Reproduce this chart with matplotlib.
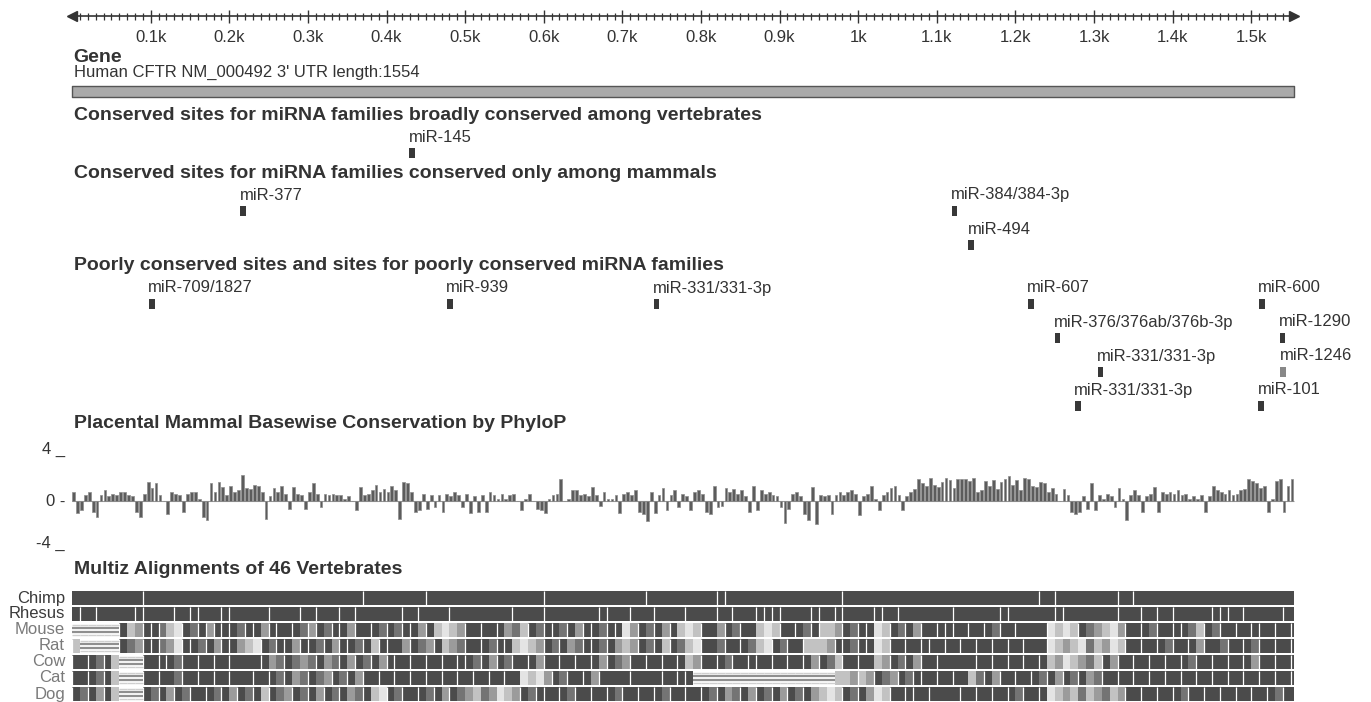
import matplotlib
matplotlib.use("Agg")
import matplotlib.pyplot as plt

plt.rcParams['font.family'] = ['Liberation Sans', 'DejaVu Sans']

# ---- data -------------------------------------------------------------
UTR_LEN = 1554
gene_label = "Human CFTR NM_000492 3' UTR length:1554"
tick_pos = [100, 200, 300, 400, 500, 600, 700, 800, 900, 1000, 1100, 1200, 1300, 1400, 1500]
tick_labels = ["0.1k", "0.2k", "0.3k", "0.4k", "0.5k", "0.6k", "0.7k", "0.8k",
               "0.9k", "1k", "1.1k", "1.2k", "1.3k", "1.4k", "1.5k"]

broad_names = ["miR-145"]
broad_pos = [429]
broad_rows = [0]

mammal_names = ["miR-377", "miR-384/384-3p", "miR-494"]
mammal_pos = [214, 1119, 1140]
mammal_rows = [0, 0, 1]

poor_names = ["miR-709/1827", "miR-939", "miR-331/331-3p", "miR-607", "miR-600",
              "miR-376/376ab/376b-3p", "miR-1290",
              "miR-331/331-3p", "miR-1246",
              "miR-331/331-3p", "miR-101"]
poor_pos = [98, 477, 740, 1216, 1510, 1250, 1536, 1305, 1537, 1276, 1509]
poor_rows = [0, 0, 0, 0, 0, 1, 1, 2, 2, 3, 3]
poor_light = ["miR-1246"]
SITE_LEN = 7

# PhyloP scores, one value per 5 bp
phylop_bin = 5
phylop = [
    0.8, -1.0, -0.8, 0.5, 0.8, -0.9, -1.4, 0.5, 0.9, 0.4,
    0.6, 0.5, 0.8, 0.8, 0.5, 0.4, -0.9, -1.4, 0.6, 1.6,
    1.1, 1.5, 0.5, 0.0, -1.1, 0.8, 0.6, 0.5, -0.9, 0.6,
    0.8, 0.8, 0.2, -1.4, -1.6, 1.5, 0.8, 1.6, 1.2, 0.5,
    1.3, 0.8, 0.9, 2.2, 1.1, 1.0, 1.4, 1.3, 0.8, -1.5,
    0.4, 1.1, 0.8, 1.3, 0.6, -0.7, 1.2, 0.6, 0.5, -0.7,
    0.8, 1.5, 0.6, -0.5, 0.6, 0.5, 0.6, 0.5, 0.5, 0.2,
    0.4, 0.0, -0.8, 1.2, 0.5, 0.6, 0.9, 1.4, 0.8, 1.0,
    0.8, 1.3, 0.9, -1.5, 1.6, 1.5, 0.8, -0.9, -0.8, 0.6,
    -0.7, 0.5, -0.5, 0.5, -0.9, 0.6, 0.4, 0.8, 0.5, -0.5,
    0.6, -1.0, 0.4, -0.9, 0.5, -0.9, 0.8, 0.5, 0.2, 0.6,
    0.2, 0.5, 0.6, 0.0, -0.8, 0.2, 0.6, 0.0, -0.7, -0.8,
    -1.0, 0.2, 0.5, 0.6, 1.9, 0.0, 0.2, 0.9, 0.9, 0.5,
    0.6, 0.4, 1.2, 0.5, -0.4, 0.8, 0.2, 0.2, 0.5, -1.0,
    0.6, 0.8, 0.5, 0.9, -0.9, -1.1, -1.7, 0.8, -1.0, 0.5,
    1.1, -0.8, 0.5, 0.9, -0.5, 0.6, 0.4,
    -0.8, 0.8, 0.9, 0.6, -0.9, -1.1, 1.3, -0.5, -0.4, 1.1,
    0.8, 1.0, 0.6, 0.9, 0.4, -0.9, 1.3, -0.8, 0.9, 0.6,
    0.8, 0.5, 0.4, -0.5, -1.9, -0.7, 0.6, 0.8, 0.4, -1.1,
    -1.6, 1.2, -2.0, 0.5, 0.4, 0.5, -1.1, 0.5, 0.8, 0.5,
    0.8, 0.9, 0.6, -1.2, 0.4, 0.6, 1.3, 0.2, -0.8, 0.5,
    0.8, 1.1, 1.3, 0.5, -0.8, 0.4,
    0.8, 1.0, 1.9, 1.5, 1.3, 2.0, 1.4, 1.2, 1.6, 2.0,
    1.8, 1.1, 1.9, 1.9, 1.9, 1.7, 2.0, 0.8, 0.9, 1.7,
    1.3, 1.8, 1.0, 1.6, 1.9, 2.1, 1.4, 1.8, 0.9, 2.0,
    1.9, 1.3, 1.2, 1.6, 1.5, 0.8,
    1.1, 0.6, 0.0, 1.0, 0.5, -0.9, -1.1, -0.9, 0.4, -0.7,
    1.5, -0.8, 0.5, 0.2, 0.6, 0.4, -0.5, 1.1, 0.2, -1.6,
    0.5, 0.9, 0.5, -0.9, 0.4, 0.6, 1.2, -0.9, 0.8, 0.6,
    0.8, 0.6, 0.9, 0.5, 0.6, 0.2, 0.4, 0.2, 0.5, -0.9,
    0.4, 1.3, 0.9, 0.8, 0.6, 0.9, 0.5, 0.6, 0.9, 1.0,
    1.9, 1.7, 1.5, 1.1, 1.3, -0.9, 0.2, 1.7, 1.9, -0.9,
    1.3, 1.9,
]

# Multiz alignment, one char per 10 bp
# d dark, m mid, g grey, l light, w very light, = unaligned
# upper case: white break on the left edge of the bin
aln_bin = 10
species = ["Chimp", "Rhesus", "Mouse", "Rat", "Cow", "Cat", "Dog"]
aln_chimp = ("dddddddddD dddddddddd dddddddddd dddddddDdd dddddDdddd dddddddddd Dddddddddd dddDdddd "
             "ddddDDdddd dddddddddd Dddddddddd dddddddddd dddddDdDdd dddddDdDdd dddddddddd dddddddd")
aln_rhesus = ("dDdDddddDD dddDdDDddD DddddDdddD dDddDdDddd ddDdDdddDd ddddddDddd DddddddDDd dDddDddd "
              "DdddDdDddD DDDdddDDdD DdddDDdDdd ddddDddddd DDdddddDDd dddddDddDd DdDddddDDD dDddddDd")
aln_mouse = ("======DlgD DMlwDmDGDD DmDDgDDdDm GDmDDgDdDm DmDDgDlwlg DdDdDgmlDm DDmDgDDmDD wgDmDgDl "
             "wlDdgDmDdl wlDdDmDLlg DmDDwlDmDg DdDDDdDdDm DdDdddWlwl DmglwgDdDm DdDDmlDmDd DdDDdDdD")
aln_rat = ("L=====DmgD DMgwDDmDgD DglwDmDDgD DmDgDDmDlD DdgDmgDlgm DdDmDDlwlg DmDgmDDmDg lgDmDlDm "
           "lwDdmDdDml wDmDdLllgD DmDDwlDdDd DDdDdDdDdD dDdDddWlgl wmlgwlDdDd DmDdDgDdmD dDmDdDdD")
aln_cow = ("DdDmDl===D dDDmDdDdDd DdddDgmDmg mDgmDgDmDg DDdDdDdDdD DmDgDmDdDg DdDdDdDgDm gDdDdDdD "
           "lgDdDmDdDD dDdDdDgDml DdDdlgDmDg DdDddddDdD dDdDdDlgwl gmlDgDdDdD dDdDmDdDdD dDgDdDdD")
aln_cat = ("DdDmDl===D dDdmDdDdDd DddDdDmDgm DmgDmDgDdD dDdDdDdDdD dDdDdDdwlw gDmDdDgDdd dDdddDdD "
           "D========= =========l lgLgDmgDmD DdDdDdlmDg DdDdDmDgDm DgmDdDdDdD dDdDdDdDdD dDdDdDdD")
aln_dog = ("DmDgDl===D mDgDmDdDmD gDmDlDmgDm DgDmDgmDlw DmDdDmDgDm glmgwlgDmD DdDmDdDdDm DdDdDmDd "
           "DdDmDgmDgD mDgDmDglwl DmDgwlDdDD dDdddDdDdD dDmDdDwlgl mlgmlgDdDd DdDmDdDdDd DdDdDmDd")
aln_rows = [aln_chimp, aln_rhesus, aln_mouse, aln_rat, aln_cow, aln_cat, aln_dog]

# ---- layout / style ---------------------------------------------------
W, H = 1371, 702
X0, PX_PER_BP = 72.1, 0.7861
xlim = (-X0 / PX_PER_BP, (W - X0) / PX_PER_BP)
TXT = '#333333'
shade = {'d': '#4b4b4b', 'm': '#747474', 'g': '#9b9b9b', 'l': '#c2c2c2', 'w': '#e4e4e4'}

fig = plt.figure(figsize=(W / 100, H / 100), dpi=100)
fig.patch.set_facecolor('white')

ax = fig.add_axes([0, 0, 1, 1])
ax.set_xlim(*xlim)
ax.set_ylim(H, 0)
ax.axis('off')

# ruler
ruler_y = 16
ax.plot([0, UTR_LEN], [ruler_y, ruler_y], color=TXT, lw=1.2)
ax.plot([0], [ruler_y], marker='<', color=TXT, ms=7)
ax.plot([UTR_LEN], [ruler_y], marker='>', color=TXT, ms=7)
minor = [p for p in range(10, UTR_LEN, 10) if p % 100]
ax.vlines(minor, ruler_y - 3.5, ruler_y + 3.5, color=TXT, lw=0.9)
ax.vlines(tick_pos, ruler_y - 6.5, ruler_y + 6.5, color=TXT, lw=1.0)
for p, lab in zip(tick_pos, tick_labels):
    ax.text(p, 38, lab, ha='center', va='center', fontsize=12, color=TXT)

# gene
ax.text(2, 57, "Gene", ha='left', va='center', fontsize=14, fontweight='bold', color=TXT)
ax.text(2, 72, gene_label, ha='left', va='center', fontsize=12, color=TXT)
ax.broken_barh([(0, UTR_LEN)], (85.5, 11), facecolors='#aaaaaa', edgecolors='#555555', lw=1)

HEAD = dict(ha='left', va='center', fontsize=14, fontweight='bold', color=TXT)


def draw_sites(names, pos, rows, first_label_y, pitch):
    for n, p, r in zip(names, pos, rows):
        ly = first_label_y + r * pitch
        col = '#888888' if n in poor_light else '#383838'
        ax.text(p - 1, ly, n, ha='left', va='center', fontsize=12, color=TXT)
        ax.broken_barh([(p, SITE_LEN)], (ly + 10.5, 10), facecolors=col)


ax.text(2, 116, "Conserved sites for miRNA families broadly conserved among vertebrates", **HEAD)
draw_sites(broad_names, broad_pos, broad_rows, 137, 34)
ax.text(2, 173, "Conserved sites for miRNA families conserved only among mammals", **HEAD)
draw_sites(mammal_names, mammal_pos, mammal_rows, 195, 34)
ax.text(2, 265, "Poorly conserved sites and sites for poorly conserved miRNA families", **HEAD)
draw_sites(poor_names, poor_pos, poor_rows, 288, 34)

ax.text(2, 423, "Placental Mammal Basewise Conservation by PhyloP", **HEAD)
ax.text(2, 570, "Multiz Alignments of 46 Vertebrates", **HEAD)

# ---- PhyloP track ------------------------------------------------------
p_top, p_bot = 451.8, 550.2
axp = fig.add_axes([0, 1 - p_bot / H, 1, (p_bot - p_top) / H])
axp.set_xlim(*xlim)
axp.set_ylim(-4.2, 4.2)
axp.axis('off')
starts = [i * phylop_bin for i in range(len(phylop))]
axp.hlines(0, 0, UTR_LEN, color='#9a9a9a', lw=0.8, zorder=0)
axp.bar(starts, phylop, width=phylop_bin * 0.7, align='edge', color='#5c5c5c',
        edgecolor='#8c8c8c', linewidth=0.5)
axp.text(-9, 4, "4 _", ha='right', va='baseline', fontsize=12, color=TXT)
axp.text(-9, 0, "0 -", ha='right', va='center', fontsize=12, color=TXT)
axp.text(-9, -4, "-4 _", ha='right', va='baseline', fontsize=12, color=TXT)

# ---- Multiz track ------------------------------------------------------
m_top = 590
axm = fig.add_axes([0, 0, 1, (H - m_top) / H])
axm.set_xlim(*xlim)
axm.set_ylim(len(species), 0)
axm.axis('off')
row_h = 0.84
for r, (name, row) in enumerate(zip(species, aln_rows)):
    cells = row.replace(' ', '')
    y0 = r + (1 - row_h) / 2
    segs = {}
    breaks = []
    gaps = []
    for i, c in enumerate(cells):
        s = i * aln_bin
        if s >= UTR_LEN:
            break
        w = min(aln_bin, UTR_LEN - s)
        if c == '=':
            gaps.append((s, s + w))
            continue
        segs.setdefault(c.lower(), []).append((s, w))
        if c.isupper():
            breaks.append(s)
    for k, v in segs.items():
        axm.broken_barh(v, (y0, row_h), facecolors=shade[k], edgecolors='none')
    if breaks:
        axm.vlines(breaks, y0, y0 + row_h, color='white', lw=0.9)
    for a, b in gaps:
        axm.hlines([y0 + 0.1 * row_h, y0 + 0.9 * row_h], a, b, color='#cfcfcf', lw=1.0)
        axm.hlines([y0 + 0.38 * row_h, y0 + 0.62 * row_h], a, b, color='#8f8f8f', lw=1.6)
    col = '#3a3a3a' if r < 2 else '#7a7a7a'
    axm.text(-9, r + 0.5, name, ha='right', va='center', fontsize=12, color=col)

fig.savefig("out.png", dpi=100, facecolor='white')
